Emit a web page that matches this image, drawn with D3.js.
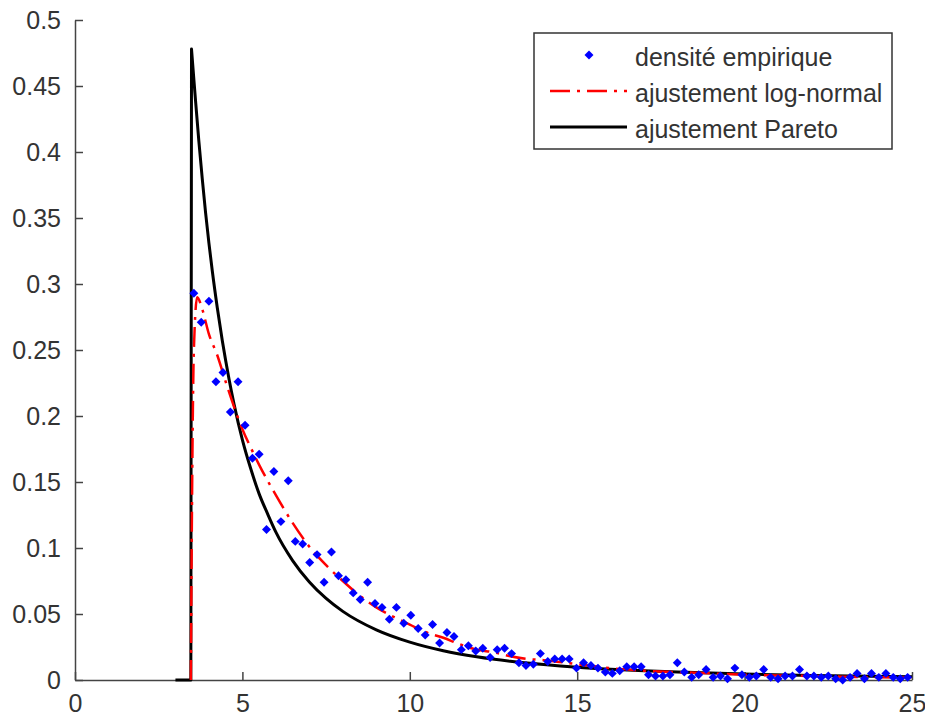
<!DOCTYPE html>
<html>
<head>
<meta charset="utf-8">
<script src="https://cdn.jsdelivr.net/npm/d3@7"></script>
<style>
  body { margin: 0; background: white; }
  text { font-family: "Liberation Sans", Arial, sans-serif; }
</style>
</head>
<body>
<div id="chart"></div>
<script>

// empirical density (blue diamonds)
var empX = [3.55, 3.77, 4.00, 4.21, 4.42, 4.64, 4.87, 5.08, 5.30, 5.50, 5.72, 5.94, 6.15, 6.37, 6.58, 6.80,
  7.01, 7.23, 7.44, 7.66, 7.87, 8.09, 8.31, 8.52, 8.74, 8.96, 9.17, 9.39, 9.60, 9.82, 10.03, 10.25,
  10.46, 10.68, 10.89, 11.11, 11.32, 11.54, 11.75, 11.97, 12.18, 12.40, 12.61, 12.83, 13.04, 13.26,
  13.47, 13.69, 13.90, 14.12, 14.33, 14.55, 14.76, 14.98, 15.19, 15.41, 15.62, 15.84, 16.05, 16.27,
  16.48, 16.70, 16.91, 17.13, 17.34, 17.56, 17.77, 17.99, 18.20, 18.42, 18.63, 18.85, 19.06, 19.28,
  19.49, 19.71, 19.92, 20.14, 20.35, 20.57, 20.78, 21.00, 21.21, 21.43, 21.64, 21.86, 22.07, 22.29,
  22.50, 22.72, 22.93, 23.15, 23.36, 23.58, 23.79, 24.01, 24.22, 24.44, 24.65, 24.87];
var empY = [0.293, 0.271, 0.287, 0.226, 0.233, 0.203, 0.226, 0.193, 0.168, 0.171, 0.114, 0.158, 0.120, 0.151, 0.105, 0.103,
  0.089, 0.095, 0.074, 0.097, 0.079, 0.076, 0.066, 0.061, 0.074, 0.058, 0.055, 0.046, 0.055, 0.043, 0.049, 0.039,
  0.034, 0.042, 0.028, 0.036, 0.033, 0.023, 0.026, 0.022, 0.024, 0.017, 0.023, 0.024, 0.020, 0.013,
  0.011, 0.012, 0.020, 0.014, 0.016, 0.016, 0.016, 0.009, 0.013, 0.011, 0.009, 0.006, 0.005, 0.007,
  0.010, 0.010, 0.010, 0.004, 0.003, 0.003, 0.004, 0.013, 0.006, 0.002, 0.004, 0.008, 0.002, 0.003,
  0.001, 0.009, 0.004, 0.002, 0.003, 0.008, 0.002, 0.001, 0.003, 0.003, 0.008, 0.003, 0.003, 0.002,
  0.003, 0.001, 0.000, 0.002, 0.005, 0.001, 0.005, 0.002, 0.005, 0.002, 0.001, 0.002];

// log-normal fit (red dash-dot)
var lnX = [3.46, 3.50, 3.55, 3.65, 3.80, 4.00, 4.25, 4.50, 4.75, 5.00, 5.25, 5.50, 6.00, 6.50, 7.00, 7.50, 8.00,
  8.50, 9.00, 9.50, 10.0, 10.5, 11.0, 11.5, 12.0, 12.5, 13.0, 13.5, 14.0, 15.0, 16.0, 17.0, 18.0, 19.0,
  20.0, 21.0, 22.0, 23.0, 24.0, 25.0];
var lnY = [0.000, 0.150, 0.250, 0.290, 0.281, 0.262, 0.246, 0.226, 0.207, 0.190, 0.176, 0.163, 0.140, 0.119, 0.101, 0.087, 0.075,
  0.064, 0.055, 0.048, 0.042, 0.036, 0.032, 0.027, 0.023, 0.021, 0.018, 0.016, 0.015, 0.012, 0.009, 0.007, 0.006, 0.005,
  0.004, 0.0035, 0.003, 0.0025, 0.002, 0.0018];

// Pareto fit (black): flat part, then the decreasing tail
var parFlatX = [3.00, 3.46];
var parFlatY = [0.000, 0.000];
var parX = [3.48, 3.55, 3.60, 3.70, 3.80, 3.90, 4.00, 4.10, 4.25, 4.40, 4.50, 4.60, 4.75, 5.00, 5.25, 5.50, 5.75,
  6.00, 6.50, 7.00, 7.50, 8.00, 9.00, 10.0, 11.0, 12.0, 13.0, 14.0, 15.0, 16.0, 17.0, 18.0, 20.0, 22.0, 25.0];
var parY = [0.478, 0.455, 0.439, 0.408, 0.380, 0.354, 0.331, 0.310, 0.282, 0.257, 0.242, 0.228, 0.209, 0.182, 0.160, 0.141, 0.126,
  0.112, 0.0905, 0.0743, 0.0618, 0.052, 0.038, 0.0287, 0.0222, 0.0176, 0.0142, 0.0117, 0.0097, 0.0082, 0.0070, 0.0060, 0.0045, 0.0035, 0.0025];

var xTicks = [0, 5, 10, 15, 20, 25];
var xTickLabels = ["0", "5", "10", "15", "20", "25"];
var yTicks = [0, 0.05, 0.1, 0.15, 0.2, 0.25, 0.3, 0.35, 0.4, 0.45, 0.5];
var yTickLabels = ["0", "0.05", "0.1", "0.15", "0.2", "0.25", "0.3", "0.35", "0.4", "0.45", "0.5"];

var legendLabels = ["densité empirique", "ajustement log-normal", "ajustement Pareto"];

var width = 925,
    height = 717;

var margin = {left: 75, right: 13, top: 20, bottom: 37};

var svg = d3.select("#chart").append("svg")
    .attr("width", width)
    .attr("height", height)
    .style("background", "white");

var x = d3.scaleLinear().domain([0, 25]).range([margin.left, width - margin.right]);
var y = d3.scaleLinear().domain([0, 0.5]).range([height - margin.bottom, margin.top]);

// axes, ticks pointing inward like matlab
var xAxis = d3.axisBottom(x)
    .tickValues(xTicks)
    .tickSizeInner(-8)
    .tickSizeOuter(0)
    .tickPadding(14)
    .tickFormat(function(d, i) { return xTickLabels[i]; });

var yAxis = d3.axisLeft(y)
    .tickValues(yTicks)
    .tickSizeInner(-8)
    .tickSizeOuter(0)
    .tickPadding(14)
    .tickFormat(function(d, i) { return yTickLabels[i]; });

var gx = svg.append("g")
    .attr("transform", "translate(0," + y(0) + ")")
    .call(xAxis);

var gy = svg.append("g")
    .attr("transform", "translate(" + x(0) + ",0)")
    .call(yAxis);

[gx, gy].forEach(function(g) {
  g.select(".domain").attr("stroke", "#444").attr("stroke-width", 1.5);
  g.selectAll(".tick line").attr("stroke", "#444").attr("stroke-width", 1.5);
  g.selectAll(".tick text")
      .attr("fill", "#333")
      .style("font-size", "25px")
      .style("font-family", "'Liberation Sans', Arial, sans-serif");
});

var line = d3.line()
    .x(function(d) { return x(d[0]); })
    .y(function(d) { return y(d[1]); });

var smooth = d3.line()
    .x(function(d) { return x(d[0]); })
    .y(function(d) { return y(d[1]); })
    .curve(d3.curveMonotoneX);

var lnData = d3.zip(lnX, lnY);
var parFlat = d3.zip(parFlatX, parFlatY);
var parData = d3.zip(parX, parY);
var empData = d3.zip(empX, empY);

// pareto: flat zero part + vertical jump + smooth tail
svg.append("path")
    .attr("d", line(parFlat.concat([parData[0]])) + smooth(parData).replace(/^M/, "L"))
    .attr("fill", "none")
    .attr("stroke", "black")
    .attr("stroke-width", 3)
    .attr("stroke-linejoin", "round");

// log-normal
svg.append("path")
    .datum(lnData)
    .attr("d", smooth)
    .attr("fill", "none")
    .attr("stroke", "#ff0000")
    .attr("stroke-width", 2.5)
    .attr("stroke-dasharray", "20,7,3,7");

var diamond = d3.symbol().type(d3.symbolSquare).size(40);

svg.selectAll(".emp")
    .data(empData)
    .enter()
    .append("path")
      .attr("class", "emp")
      .attr("d", diamond)
      .attr("transform", function(d) { return "translate(" + x(d[0]) + "," + y(d[1]) + ") rotate(45)"; })
      .attr("fill", "#0000ff");

// legend
var legend = svg.append("g").attr("class", "legend");

legend.append("rect")
    .attr("x", 534)
    .attr("y", 33)
    .attr("width", 358)
    .attr("height", 116)
    .attr("fill", "white")
    .attr("stroke", "#333")
    .attr("stroke-width", 1.5);

var rowBase = [66, 102, 138];

legend.selectAll(".legtext")
    .data(legendLabels)
    .enter()
    .append("text")
      .attr("class", "legtext")
      .attr("x", 635)
      .attr("y", function(d, i) { return rowBase[i]; })
      .attr("fill", "#333")
      .style("font-size", "25px")
      .text(function(d) { return d; });

legend.append("path")
    .attr("d", diamond)
    .attr("transform", "translate(589," + (rowBase[0] - 11) + ") rotate(45)")
    .attr("fill", "#0000ff");

legend.append("line")
    .attr("x1", 550).attr("x2", 627)
    .attr("y1", rowBase[1] - 11).attr("y2", rowBase[1] - 11)
    .attr("stroke", "#ff0000")
    .attr("stroke-width", 2.5)
    .attr("stroke-dasharray", "20,7,3,7");

legend.append("line")
    .attr("x1", 550).attr("x2", 627)
    .attr("y1", rowBase[2] - 11).attr("y2", rowBase[2] - 11)
    .attr("stroke", "black")
    .attr("stroke-width", 3);

</script>
</body>
</html>
